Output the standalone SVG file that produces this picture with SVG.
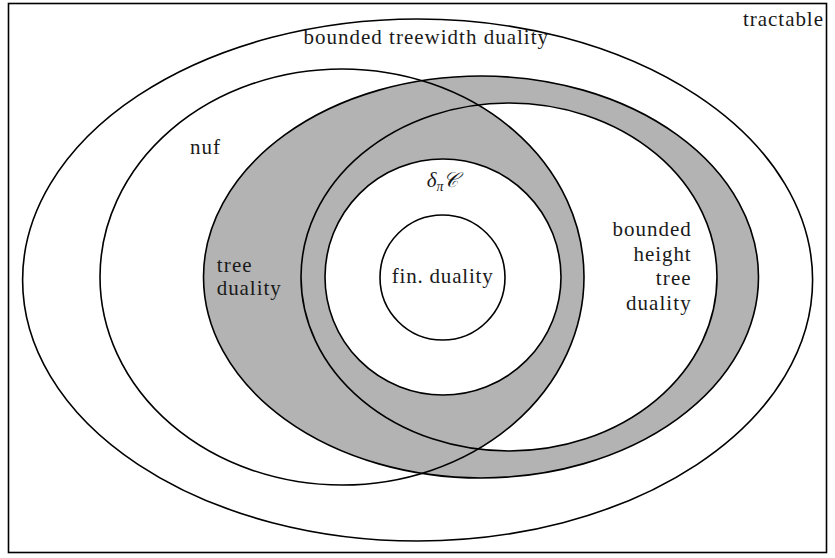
<svg xmlns="http://www.w3.org/2000/svg" width="835" height="558" viewBox="0 0 835 558">
<style>
.ln{fill:none;stroke:#000;stroke-width:1.6}
.g{fill:#b3b3b3;stroke:none}
.w{fill:#fff;stroke:none}
.t{font-family:"Liberation Serif","Times New Roman",serif;font-size:21px;fill:#1a1a1a}
</style>
<defs>
<clipPath id="nufclip"><ellipse cx="342" cy="277" rx="242" ry="208"/></clipPath>
</defs>
<rect x="0" y="0" width="835" height="558" fill="#fff"/>
<g id="fills">
<ellipse class="g" cx="481" cy="277" rx="277.5" ry="201"/>
<ellipse class="w" cx="509" cy="277" rx="208" ry="174"/>
<ellipse class="g" cx="509" cy="277" rx="208" ry="174" clip-path="url(#nufclip)"/>
<circle class="w" cx="443" cy="277" r="118"/>
</g>
<g id="tractable">
<rect class="ln" x="8.5" y="3.5" width="818" height="549"/>
<text class="t" x="743" y="26" textLength="80" lengthAdjust="spacing">tractable</text>
</g>
<g id="bounded-treewidth-duality">
<ellipse class="ln" cx="417.6" cy="280" rx="395" ry="261"/>
<text class="t" x="303.5" y="44" textLength="244.5" lengthAdjust="spacing">bounded treewidth duality</text>
</g>
<g id="nuf">
<ellipse class="ln" cx="342" cy="277" rx="242" ry="208"/>
<text class="t" x="190" y="154" textLength="30" lengthAdjust="spacing">nuf</text>
</g>
<g id="tree-duality">
<ellipse class="ln" cx="481" cy="277" rx="277.5" ry="201"/>
<text class="t" x="216.7" y="271.7" textLength="35" lengthAdjust="spacing">tree</text>
<text class="t" x="216.7" y="295" textLength="64" lengthAdjust="spacing">duality</text>
</g>
<g id="bounded-height-tree-duality">
<ellipse class="ln" cx="509" cy="277" rx="208" ry="174"/>
<text class="t" x="690.7" y="236" text-anchor="end" textLength="78.2" lengthAdjust="spacing">bounded</text>
<text class="t" x="690.7" y="260.5" text-anchor="end" textLength="57.2" lengthAdjust="spacing">height</text>
<text class="t" x="690.7" y="285" text-anchor="end" textLength="35" lengthAdjust="spacing">tree</text>
<text class="t" x="690.7" y="309.5" text-anchor="end" textLength="64.8" lengthAdjust="spacing">duality</text>
</g>
<g id="delta-pi-C">
<circle class="ln" cx="443" cy="277" r="118"/>
<text class="t" x="426.7" y="186.7"><tspan font-style="italic">δ</tspan><tspan font-style="italic" font-size="14" dy="4">π</tspan><tspan dy="-4" font-family="'DejaVu Serif','DejaVu Sans',serif" font-style="italic">𝒞</tspan></text>
</g>
<g id="fin-duality">
<circle class="ln" cx="442.5" cy="277.5" r="62.5"/>
<text class="t" x="391.7" y="283.3" textLength="101" lengthAdjust="spacing">fin. duality</text>
</g>
<g id="connectors"/>
</svg>
